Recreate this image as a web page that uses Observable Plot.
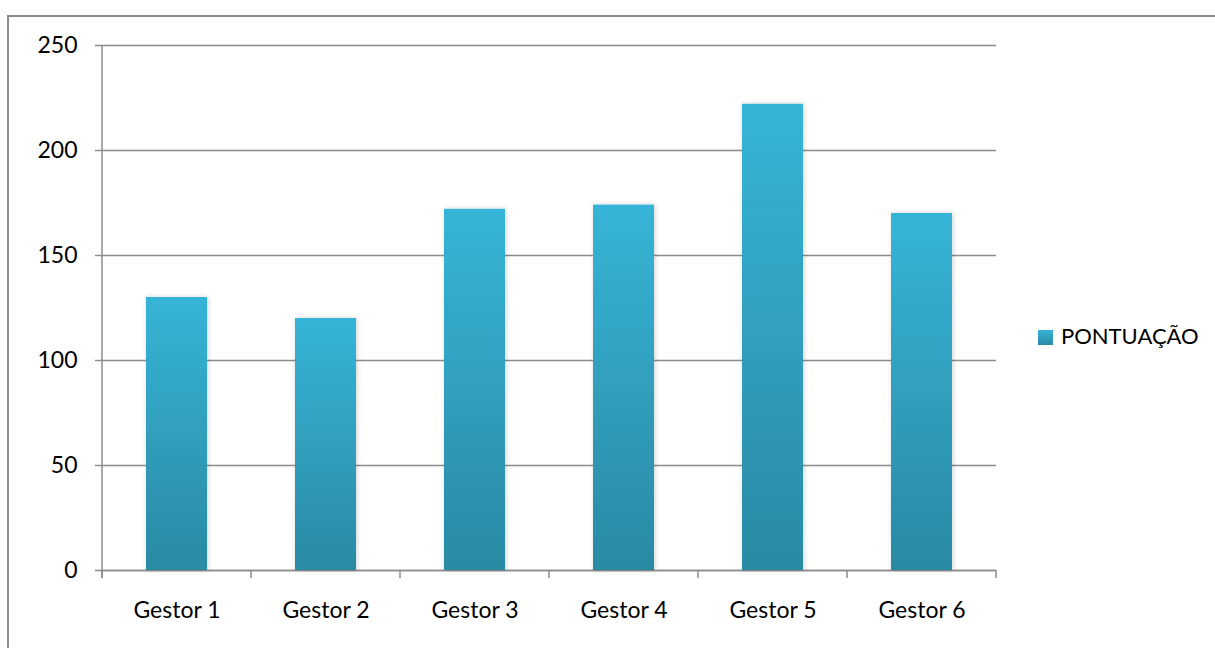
<!DOCTYPE html>
<html>
<head>
<meta charset="utf-8">
<script src="https://cdn.jsdelivr.net/npm/d3@7"></script>
<script src="https://cdn.jsdelivr.net/npm/@observablehq/plot@0.6"></script>
<style>
  html, body { margin: 0; padding: 0; background: #fff; overflow: hidden; }
  #wrap { position: relative; width: 1215px; height: 648px; font-family: Lato, "Open Sans", sans-serif; }
  #frame { position: absolute; left: 7px; top: 15px; width: 1220px; height: 650px; border-left: 2px solid #8c8c8c; border-top: 2px solid #8c8c8c; box-sizing: border-box; }
  #chart { position: absolute; left: 0; top: 0; }
  #legend { position: absolute; left: 1038px; top: 322px; height: 28px; display: flex; align-items: center; font-size: 22px; line-height: 28px; color: #000; }
  #legend .sw { width: 15px; height: 15px; background: linear-gradient(#36b4d7, #2a8aa3); margin-right: 8px; margin-top: 2px; }
</style>
</head>
<body>
<div id="wrap">
  <div id="frame"></div>
  <div id="chart"></div>
  <div id="legend"><div class="sw"></div><span id="legend-label"></span></div>
</div>
<script>
const categories = ["Gestor 1", "Gestor 2", "Gestor 3", "Gestor 4", "Gestor 5", "Gestor 6"];
const values = [130, 120, 172, 174, 222, 170];
const yTicks = [0, 50, 100, 150, 200, 250];
const seriesName = "PONTUAÇÃO";

const data = categories.map((c, i) => ({ gestor: c, pontuacao: values[i] }));
document.getElementById("legend-label").textContent = seriesName;

const gridColor = "#8c8c8c";

function boundaryTicks(index, scales, values, dimensions) {
  const { width, height, marginLeft, marginRight, marginBottom, marginTop } = dimensions;
  const g = d3.create("svg:g").attr("stroke", gridColor).attr("stroke-width", 1.5);
  const n = categories.length;
  const step = (width - marginLeft - marginRight) / n;
  const y0 = height - marginBottom;
  for (let i = 0; i <= n; i++) {
    const x = marginLeft + i * step;
    g.append("line").attr("x1", x).attr("x2", x).attr("y1", y0).attr("y2", y0 + 8);
  }
  g.append("line").attr("x1", marginLeft).attr("x2", marginLeft).attr("y1", marginTop).attr("y2", y0 + 8);
  return g.node();
}

const plot = Plot.plot({
  width: 1215,
  height: 648,
  marginLeft: 102,
  marginRight: 219,
  marginTop: 45,
  marginBottom: 78,
  style: { fontFamily: "Lato, 'Open Sans', sans-serif", fontSize: "23px", color: "#000", background: "transparent", overflow: "visible" },
  x: { domain: categories, paddingInner: 0.59, paddingOuter: 0.295, label: null },
  y: { domain: [0, 250], label: null },
  marks: [
    Plot.gridY(yTicks, { stroke: gridColor, strokeOpacity: 1, strokeWidth: 1.5 }),
    Plot.ruleY([0], { stroke: gridColor, strokeWidth: 1.5 }),
    Plot.barY(data, { x: "gestor", y: "pontuacao", fill: "url(#barGrad)" }),
    boundaryTicks,
    Plot.axisY(yTicks, { tickSize: 7, tickPadding: 18, stroke: gridColor, strokeWidth: 1.5, fill: "#000", fontSize: 23, label: null }),
    Plot.axisX({ tickSize: 0, tickPadding: 31, fill: "#000", fontSize: 23, label: null })
  ]
});

const svg = d3.select(plot);
const defs = svg.insert("defs", ":first-child");
const grad = defs.append("linearGradient").attr("id", "barGrad").attr("x1", 0).attr("y1", 0).attr("x2", 0).attr("y2", 1);
grad.append("stop").attr("offset", "0%").attr("stop-color", "#36b4d7");
grad.append("stop").attr("offset", "100%").attr("stop-color", "#2a8aa3");
const f = defs.append("filter").attr("id", "shadow").attr("x", "-20%").attr("y", "-5%").attr("width", "140%").attr("height", "110%");
f.append("feDropShadow").attr("dx", 1).attr("dy", 0).attr("stdDeviation", 2.5).attr("flood-color", "#000").attr("flood-opacity", 0.18);
svg.selectAll("g[fill='url(#barGrad)']").attr("filter", "url(#shadow)");
document.getElementById("chart").appendChild(plot);
</script>
</body>
</html>
